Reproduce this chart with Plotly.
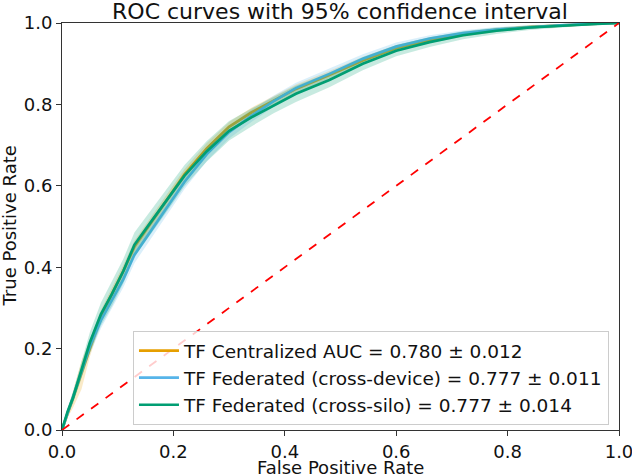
import plotly.graph_objects as go

# False positive rate grid (shared)
fpr = [0, 0.01, 0.02, 0.035, 0.05, 0.07, 0.09, 0.11, 0.13, 0.16, 0.19, 0.22, 0.26,
       0.30, 0.34, 0.38, 0.42, 0.48, 0.54, 0.60, 0.66, 0.72, 0.78, 0.84, 0.90, 0.95, 1.0]

# Mean TPR per model
tpr_central = [0, 0.04, 0.075, 0.135, 0.20, 0.28, 0.335, 0.39, 0.45, 0.51, 0.568, 0.628, 0.692,
               0.745, 0.78, 0.81, 0.838, 0.872, 0.908, 0.938, 0.958, 0.972, 0.983, 0.99, 0.995, 0.998, 1.0]
tpr_device = [0, 0.04, 0.08, 0.145, 0.205, 0.27, 0.32, 0.37, 0.43, 0.49, 0.55, 0.61, 0.678,
              0.732, 0.772, 0.808, 0.84, 0.875, 0.912, 0.942, 0.962, 0.975, 0.984, 0.99, 0.995, 0.998, 1.0]
tpr_silo = [0, 0.045, 0.08, 0.147, 0.215, 0.285, 0.335, 0.39, 0.455, 0.512, 0.568, 0.625, 0.685,
            0.735, 0.768, 0.798, 0.826, 0.86, 0.90, 0.932, 0.953, 0.97, 0.981, 0.989, 0.994, 0.997, 1.0]

# 95% CI half-widths
ci_central = [0, 0.01, 0.02, 0.035, 0.02, 0.015, 0.015, 0.015, 0.015, 0.014, 0.014, 0.013, 0.013,
              0.012, 0.012, 0.011, 0.011, 0.01, 0.009, 0.008, 0.007, 0.006, 0.005, 0.004, 0.003, 0.002, 0]
ci_device = [0, 0.008, 0.012, 0.015, 0.018, 0.02, 0.02, 0.02, 0.02, 0.02, 0.019, 0.018, 0.017,
             0.016, 0.015, 0.014, 0.013, 0.012, 0.011, 0.01, 0.008, 0.007, 0.006, 0.004, 0.003, 0.002, 0]
ci_silo = [0, 0.01, 0.015, 0.02, 0.025, 0.028, 0.03, 0.03, 0.03, 0.03, 0.028, 0.026, 0.025,
           0.024, 0.022, 0.02, 0.02, 0.018, 0.016, 0.014, 0.012, 0.01, 0.008, 0.006, 0.004, 0.002, 0]

names = ["TF Centralized AUC = 0.780 ± 0.012",
         "TF Federated (cross-device) = 0.777 ± 0.011",
         "TF Federated (cross-silo) = 0.777 ± 0.014"]
colors = ["#E69F00", "#56B4E9", "#009E73"]
fills = ["rgba(230,159,0,0.22)", "rgba(86,180,233,0.22)", "rgba(0,158,115,0.22)"]

diag_x = [0, 1]
diag_y = [0, 1]

fig = go.Figure()
series = [(tpr_central, ci_central), (tpr_device, ci_device), (tpr_silo, ci_silo)]
for (tpr, ci), name, col, fc in zip(series, names, colors, fills):
    upper = [min(1.0, t + c) for t, c in zip(tpr, ci)]
    lower = [max(0.0, t - c) for t, c in zip(tpr, ci)]
    fig.add_trace(go.Scatter(x=fpr + fpr[::-1], y=upper + lower[::-1], fill="toself",
                             fillcolor=fc, line=dict(width=0), mode="lines",
                             showlegend=False, hoverinfo="skip"))
    fig.add_trace(go.Scatter(x=fpr, y=tpr, mode="lines", name=name,
                             line=dict(color=col, width=2.7)))

fig.add_trace(go.Scatter(x=diag_x, y=diag_y, mode="lines", showlegend=False,
                         line=dict(color="red", width=1.8, dash="dash")))

axis_common = dict(range=[0, 1], tickvals=[0, 0.2, 0.4, 0.6, 0.8, 1.0], tickformat=".1f",
                   showline=True, linecolor="#333", linewidth=1, mirror=True,
                   ticks="outside", ticklen=5, tickcolor="#333", showgrid=False,
                   zeroline=False, tickfont=dict(size=18, color="#111"),
                   automargin=False, ticklabeloverflow="allow")

fig.update_layout(
    width=632, height=476,
    margin=dict(l=62, r=13, t=23, b=46),
    paper_bgcolor="white", plot_bgcolor="white",
    font=dict(family="DejaVu Sans", size=18, color="#111"),
    title=dict(text="ROC curves with 95% confidence interval", x=0.538, xanchor="center",
               y=0.976, yanchor="middle", font=dict(size=22)),
    xaxis=axis_common,
    yaxis=axis_common,
    legend=dict(x=0.982, y=0.012, xanchor="right", yanchor="bottom",
                bgcolor="rgba(255,255,255,0.8)", bordercolor="#ccc", borderwidth=1,
                font=dict(size=18.5), tracegroupgap=0, itemwidth=40),
    showlegend=True,
    annotations=[
        dict(text="False Positive Rate", xref="paper", yref="paper", x=0.5, y=0,
             xanchor="center", yanchor="middle", yshift=-37, showarrow=False,
             font=dict(size=18)),
        dict(text="True Positive Rate", xref="paper", yref="paper", x=0, y=0.5,
             xanchor="center", yanchor="middle", xshift=-53, textangle=-90,
             showarrow=False, font=dict(size=18)),
    ],
)

fig.write_html("out.html", config={"displayModeBar": False},
               post_script="document.body.style.margin='0';")
